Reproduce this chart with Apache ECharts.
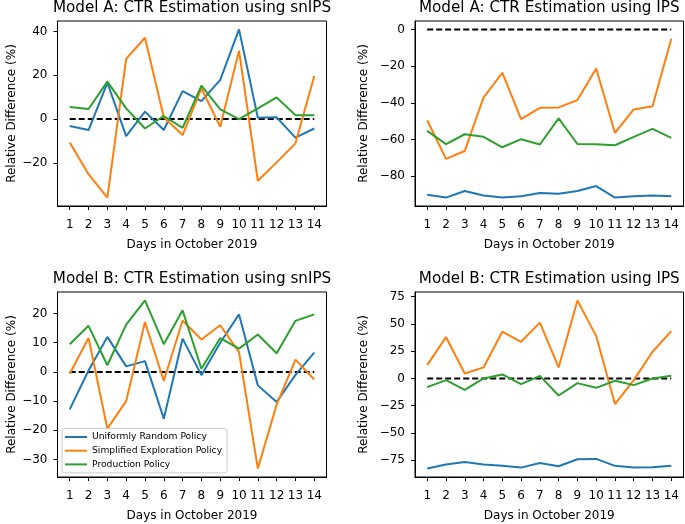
<!DOCTYPE html>
<html><head><meta charset="utf-8">
<script src="https://cdn.jsdelivr.net/npm/echarts@6/dist/echarts.min.js"></script>
<style>html,body{margin:0;padding:0;background:#fff}#c{width:685px;height:524px}</style>
</head><body><div id="c"></div>
<script>
const days = [1,2,3,4,5,6,7,8,9,10,11,12,13,14];
const policyNames = ['Uniformly Random Policy','Simplified Exploration Policy','Production Policy'];
const panelTitles = [
  'Model A: CTR Estimation using snIPS',
  'Model A: CTR Estimation using IPS',
  'Model B: CTR Estimation using snIPS',
  'Model B: CTR Estimation using IPS'
];
const xAxisTitle = 'Days in October 2019';
const yAxisTitle = 'Relative Difference (%)';

// Model A, snIPS
const aSnUniform = [-3.2,-5,16.6,-7.8,3.4,-5,12.8,8.2,17.9,41,0.6,0.8,-8.5,-4.3];
const aSnSimplified = [-10.7,-25.2,-35.9,27.5,37.2,0.8,-7.3,14,-3.5,31.3,-28.2,-19.8,-11.1,19.7];
const aSnProduction = [5.5,4.6,17.1,4.9,-4.3,1.4,-4,15.3,4.4,0,4.9,9.9,1.8,1.8];
// Model A, IPS
const aIpsUniform = [-90,-91.6,-88,-90.5,-91.6,-90.9,-89.1,-89.5,-88,-85.3,-91.6,-90.9,-90.4,-90.9];
const aIpsSimplified = [-49.5,-70.5,-66.2,-37.1,-23.6,-48.9,-42.7,-42.5,-38.5,-21.3,-56.4,-43.6,-41.8,-5.1];
const aIpsProduction = [-55.3,-62.5,-57.1,-58.5,-64.2,-59.8,-62.7,-48.5,-62.4,-62.5,-63.1,-58.5,-54.2,-59.1];
// Model B, snIPS
const bSnUniform = [-12.8,0.5,12,1.9,3.7,-16,11.4,-1.1,10,19.7,-4.6,-10.3,-1,6.6];
const bSnSimplified = [-0.6,11.6,-19.4,-10,17.1,-3.1,17.6,11.1,16,6.8,-33.1,-11.2,4.2,-2.6];
const bSnProduction = [9.5,15.8,2.3,16.2,24.5,9.5,21.1,1.1,11.6,8,12.8,6.4,17.5,19.7];
// Model B, IPS
const bIpsUniform = [-82.6,-78.9,-76.5,-78.9,-80.1,-81.7,-77.4,-80.4,-74,-73.7,-80.1,-81.7,-81.3,-80.1];
const bIpsSimplified = [12.2,37.9,4.6,10.1,42.8,33.6,51.1,10.1,71.5,38.8,-23.5,-1.5,24.5,43.4];
const bIpsProduction = [-8,-1.5,-10.4,0,3.7,-5.2,2.4,-15.6,-4.3,-8.6,-2.1,-6.1,0,2.4];

const yTicks = [
  [-20,0,20,40],
  [-80,-60,-40,-20,0],
  [-30,-20,-10,0,10,20],
  [-75,-50,-25,0,25,50,75]
];
const zeroLine = [0,0];
const zeroDays = [1,14];

const panels = [
  [aSnUniform,aSnSimplified,aSnProduction],
  [aIpsUniform,aIpsSimplified,aIpsProduction],
  [bSnUniform,bSnSimplified,bSnProduction],
  [bIpsUniform,bIpsSimplified,bIpsProduction]
];
const colors = ['#1f77b4','#ff7f0e','#2ca02c'];
const FONT = 'DejaVu Sans';
const grids = [
  {left:57.5, top:21, width:269, height:185},
  {left:415, top:21, width:268.5, height:185},
  {left:57.5, top:292, width:269, height:185},
  {left:415, top:292, width:268.5, height:185}
];
const yNameGaps = [39, 45, 39, 45];
const fmt = v => String(v).replace('-', '\u2212');

const option = {
  animation:false,
  backgroundColor:'#fff',
  textStyle:{fontFamily:FONT},
  title: grids.map((g,i)=>({
    text:panelTitles[i], left:g.left+g.width/2, top:g.top-21, textAlign:'center', padding:0,
    textStyle:{fontFamily:FONT, fontSize:15.2, fontWeight:'normal', color:'#000', lineHeight:16}
  })),
  grid: grids.map(g=>Object.assign({show:true, borderColor:'#000', borderWidth:1, backgroundColor:'#fff', containLabel:false}, g)),
  legend:{
    data:policyNames, orient:'vertical', left:62, top:428.5,
    icon:'rect', itemWidth:22, itemHeight:2, itemGap:2.7,
    backgroundColor:'rgba(255,255,255,0.8)', borderColor:'#ccc', borderWidth:1, borderRadius:3,
    padding:[3,5,3,3],
    textStyle:{fontFamily:FONT, fontSize:9.2, color:'#000', lineHeight:11, padding:[0,0,0,0]}
  },
  xAxis: grids.map((g,i)=>({
    type:'value', gridIndex:i, min:0.35, max:14.65,
    name:xAxisTitle, nameLocation:'middle', nameGap:33,
    nameTextStyle:{fontFamily:FONT, fontSize:12, color:'#000'},
    axisLine:{show:true, onZero:false, lineStyle:{color:'#000', width:1}},
    axisTick:{show:true, inside:false, length:4, customValues:days, lineStyle:{color:'#000'}},
    axisLabel:{show:true, margin:13, customValues:days, fontFamily:FONT, fontSize:12, color:'#000', formatter:fmt},
    splitLine:{show:false}
  })),
  yAxis: grids.map((g,i)=>{
    const all = panels[i].flat().concat(zeroLine);
    const lo = Math.min(...all), hi = Math.max(...all), pad = (hi-lo)*0.05;
    return {
      type:'value', gridIndex:i, min:lo-pad, max:hi+pad,
      name:yAxisTitle, nameLocation:'middle', nameGap:yNameGaps[i],
      nameTextStyle:{fontFamily:FONT, fontSize:12, color:'#000'},
      axisLine:{show:true, onZero:false, lineStyle:{color:'#000', width:1}},
      axisTick:{show:true, inside:false, length:4, customValues:yTicks[i], lineStyle:{color:'#000'}},
      axisLabel:{show:true, margin:10, customValues:yTicks[i], fontFamily:FONT, fontSize:12, color:'#000', formatter:fmt},
      splitLine:{show:false}
    };
  }),
  series: []
};
panels.forEach((p,i)=>{
  option.series.push({
    type:'line', xAxisIndex:i, yAxisIndex:i, name:'zero', silent:true, symbol:'none', z:1,
    data: zeroDays.map((d,k)=>[d, zeroLine[k]]),
    lineStyle:{color:'#000', width:2, type:[6,3]}
  });
  p.forEach((vals,k)=>{
    option.series.push({
      type:'line', xAxisIndex:i, yAxisIndex:i, name:policyNames[k], symbol:'none', z:2+k,
      data: days.map((d,j)=>[d, vals[j]]),
      color:colors[k],
      lineStyle:{color:colors[k], width:2}
    });
  });
});
const chart = echarts.init(document.getElementById('c'), null, {renderer:'canvas'});
chart.setOption(option);
</script>
</body></html>
